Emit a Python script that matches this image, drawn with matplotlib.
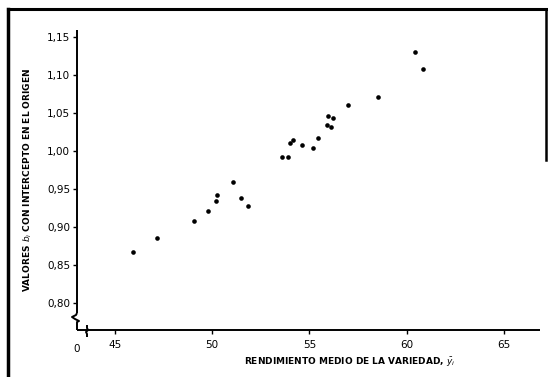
import matplotlib
matplotlib.use("Agg")
from matplotlib import pyplot as plt
from matplotlib.lines import Line2D

# mean yield of each variety and its b_i (regression through origin)
rendimiento = [45.94, 47.14, 49.08, 49.76, 50.19, 50.26, 51.08, 51.46, 51.82,
               53.57, 53.92, 54.02, 54.17, 54.60, 55.19, 55.42, 55.90, 56.11,
               55.95, 56.22, 57.00, 58.52, 60.41, 60.82]
valores_b = [0.867, 0.886, 0.908, 0.921, 0.935, 0.942, 0.960, 0.938, 0.928,
             0.992, 0.992, 1.011, 1.015, 1.008, 1.005, 1.018, 1.035, 1.032,
             1.046, 1.044, 1.061, 1.071, 1.131, 1.108]

x_ticks = [45, 50, 55, 60, 65]
y_ticks = [0.80, 0.85, 0.90, 0.95, 1.00, 1.05, 1.10, 1.15]
y_tick_labels = ['0,80', '0,85', '0,90', '0,95', '1,00', '1,05', '1,10', '1,15']

fig = plt.figure(figsize=(5.48, 3.77), dpi=100)
ax = fig.add_axes([77/548, 1 - 330/377, 463/548, 300/377])

ax.scatter(rendimiento, valores_b, s=11, color='black', zorder=3, linewidths=0)

ax.set_xlim(43.05, 66.85)
ax.set_ylim(0.7649, 1.1596)

ax.set_xticks(x_ticks)
ax.set_xticklabels([str(t) for t in x_ticks])
ax.set_yticks(y_ticks)
ax.set_yticklabels(y_tick_labels)
ax.tick_params(direction='out', length=3, width=1, labelsize=7.5, pad=2)
ax.tick_params(axis='x', pad=4)

for s in ax.spines.values():
    s.set_visible(False)

# axes drawn by hand so the breaks can be shown
W, H = 463.0, 300.0
def px(dx, dy):
    return dx / W, dy / H

kw = dict(transform=ax.transAxes, color='black', lw=1.4, clip_on=False,
          solid_capstyle='butt')
# y axis, upper part
ax.plot([0, 0], [px(0, 17)[1], 1.0], **kw)
# y axis break
zx = [0, -1, -5, -2, 2, 0, 0]
zy = [17, 15, 13, 11, 9, 8, 0]
ax.plot([px(a, 0)[0] for a in zx], [px(0, b)[1] for b in zy], **kw)
# x axis
ax.plot([0, 1.0], [0, 0], **kw)
# x axis break
bx = [10, 10, 11, 9, 10, 10]
by = [5, 2, 0, -2, -4, -7]
ax.plot([px(a, 0)[0] for a in bx], [px(0, b)[1] for b in by], **kw)

ax.text(0, -0.045, '0', transform=ax.transAxes, ha='center', va='top',
        fontsize=7.5)

ax.set_xlabel(r'RENDIMIENTO MEDIO DE LA VARIEDAD, $\bar{y}_i$', fontsize=6.5,
              fontweight='bold')
ax.xaxis.set_label_coords(0.59, -0.085)
ax.set_ylabel(r'VALORES $b_i$ CON INTERCEPTO EN EL ORIGEN', fontsize=6.5,
              fontweight='bold')
ax.yaxis.set_label_coords(-0.093, 0.50)

# page border around the figure
fig.add_artist(Line2D([8/548, 546/548], [1 - 9/377, 1 - 9/377], color='black', lw=2.2))
fig.add_artist(Line2D([8/548, 8/548], [0, 1 - 9/377], color='black', lw=2.5))
fig.add_artist(Line2D([546/548, 546/548], [1 - 160/377, 1 - 9/377], color='black', lw=1.8))

fig.savefig('out.png', dpi=100)
